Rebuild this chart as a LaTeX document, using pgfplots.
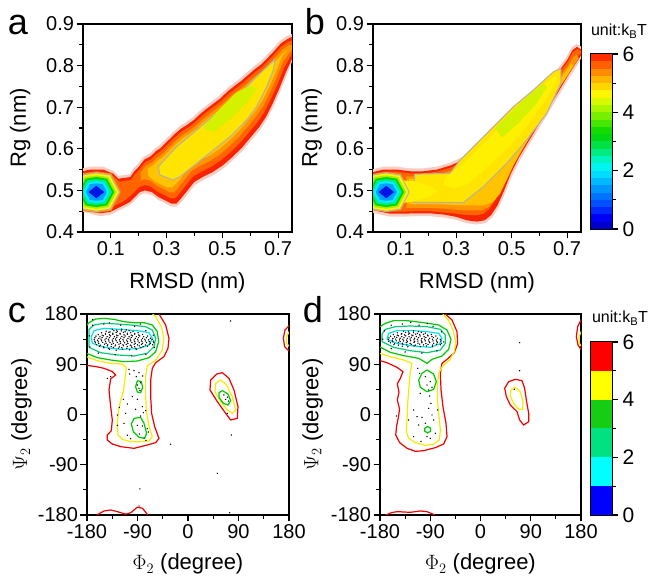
\documentclass[border=0pt]{standalone}
\usepackage{pgfplots}
\pgfplotsset{compat=1.18}
\usepackage{fontspec}
\setmainfont{Liberation Sans}
\setsansfont{Liberation Sans}

% filled free-energy layers (a, b)
\definecolor{cpale}{RGB}{250,205,195}
\definecolor{cred}{RGB}{250,35,0}
\definecolor{cor1}{RGB}{255,100,0}
\definecolor{cor2}{RGB}{255,150,0}
\definecolor{cor3}{RGB}{255,195,0}
\definecolor{cyel}{RGB}{255,228,0}
\definecolor{cyel2}{RGB}{255,240,0}
\definecolor{ccore}{RGB}{212,242,0}
\definecolor{cgrey}{RGB}{185,175,165}
\definecolor{bl2}{RGB}{255,120,0}
\definecolor{bl2b}{RGB}{255,175,0}
\definecolor{bl3}{RGB}{250,245,0}
\definecolor{bl4}{RGB}{170,235,0}
\definecolor{bl5}{RGB}{0,215,0}
\definecolor{bl6}{RGB}{0,235,150}
\definecolor{bl7}{RGB}{0,240,255}
\definecolor{bl8}{RGB}{0,160,255}
\definecolor{bl9}{RGB}{0,20,230}
% colour bar (a, b)
\definecolor{cb1}{RGB}{0,0,200}
\definecolor{cb2}{RGB}{0,0,245}
\definecolor{cb3}{RGB}{0,40,255}
\definecolor{cb4}{RGB}{0,80,255}
\definecolor{cb5}{RGB}{0,115,255}
\definecolor{cb6}{RGB}{0,150,255}
\definecolor{cb7}{RGB}{0,185,255}
\definecolor{cb8}{RGB}{0,220,255}
\definecolor{cb9}{RGB}{0,245,240}
\definecolor{cb10}{RGB}{0,245,190}
\definecolor{cb11}{RGB}{0,235,130}
\definecolor{cb12}{RGB}{0,225,70}
\definecolor{cb13}{RGB}{0,215,20}
\definecolor{cb14}{RGB}{20,220,0}
\definecolor{cb15}{RGB}{70,230,0}
\definecolor{cb16}{RGB}{120,238,0}
\definecolor{cb17}{RGB}{170,245,0}
\definecolor{cb18}{RGB}{215,250,0}
\definecolor{cb19}{RGB}{255,245,0}
\definecolor{cb20}{RGB}{255,215,0}
\definecolor{cb21}{RGB}{255,180,0}
\definecolor{cb22}{RGB}{255,140,0}
\definecolor{cb23}{RGB}{255,95,0}
\definecolor{cb24}{RGB}{255,45,0}
% contour lines (c, d)
\definecolor{lred}{RGB}{240,0,0}
\definecolor{lyel}{RGB}{245,235,0}
\definecolor{lgrn}{RGB}{0,200,0}
\definecolor{lteal}{RGB}{0,205,120}
\definecolor{lcyan}{RGB}{0,225,235}
\definecolor{k1}{RGB}{0,0,255}
\definecolor{k2}{RGB}{0,255,255}
\definecolor{k3}{RGB}{0,225,130}
\definecolor{k4}{RGB}{20,205,20}
\definecolor{k5}{RGB}{255,255,0}
\definecolor{k6}{RGB}{255,0,0}

\pgfplotsset{
  panel/.style={scale only axis, anchor=south west,
    axis line style={line width=1.3pt},
    every tick/.style={black, line width=1.1pt},
    tick align=outside, major tick length=6.5pt, minor tick length=4pt,
    xtick pos=bottom, ytick pos=left,
    tick label style={font=\fontsize{20}{20}\selectfont},
    yticklabel style={xshift=1pt},
    label style={font=\fontsize{22}{22}\selectfont}},
  fe/.style={panel, xmin=0, xmax=0.75, ymin=0.4, ymax=0.9,
    xtick={0.1,0.3,0.5,0.7}, xticklabels={0.1,0.3,0.5,0.7},
    minor xtick={0.2,0.4,0.6},
    ytick={0.4,0.5,0.6,0.7,0.8,0.9}, yticklabels={0.4,0.5,0.6,0.7,0.8,0.9},
    minor ytick={0.45,0.55,0.65,0.75,0.85},
    xlabel={RMSD (nm)}, ylabel={Rg (nm)},
    xlabel style={at={(axis description cs:0.5,-0.245)}, anchor=center}},
  rama/.style={panel, xmin=-180, xmax=180, ymin=-180, ymax=180,
    xtick={-180,-90,0,90,180}, xticklabels={-180,-90,0,90,180},
    minor xtick={-135,-45,45,135},
    ytick={-180,-90,0,90,180}, yticklabels={-180,-90,0,90,180},
    minor ytick={-135,-45,45,135},
    xlabel={$\Phi_2$ (degree)}, ylabel={$\Psi_2$ (degree)},
    xlabel style={at={(axis description cs:0.5,-0.245)}, anchor=center}},
  cbar/.style={scale only axis, anchor=south west, width=21pt,
    xmin=0, xmax=1, ymin=0, ymax=6, xtick=\empty,
    ytick={0,2,4,6}, yticklabels={0,2,4,6}, minor ytick={1,3,5},
    ytick pos=right, yticklabel pos=right,
    axis line style={line width=1.1pt},
    every tick/.style={black, line width=1.1pt},
    tick align=outside, major tick length=6pt, minor tick length=4pt,
    yticklabel style={font=\fontsize{21}{21}\selectfont, xshift=1pt}},
  lvl/.style={line width=1.2pt, mark=none},
  dots/.style={only marks, mark=*, mark size=0.45pt, mark options={draw=none, fill=black!60}}
}

\begin{document}
\begin{tikzpicture}
\useasboundingbox (0pt,0pt) rectangle (652pt,577pt);

% ---------------- a ----------------
\begin{axis}[fe, at={(83pt,345pt)}, width=209pt, height=208pt,
  ylabel style={at={(axis description cs:-0.30,0.5)}, anchor=center}]
\addplot[draw=none, fill=cpale] coordinates {(0,0.553)(0.025,0.557)(0.073,0.557)(0.109,0.547)(0.127,0.535)(0.169,0.539)(0.181,0.553)(0.199,0.565)(0.217,0.581)(0.240,0.589)(0.258,0.601)(0.276,0.609)(0.300,0.625)(0.324,0.641)(0.348,0.655)(0.372,0.665)(0.396,0.677)(0.420,0.692)(0.444,0.705)(0.468,0.717)(0.492,0.729)(0.516,0.745)(0.539,0.757)(0.563,0.769)(0.587,0.783)(0.611,0.797)(0.635,0.809)(0.659,0.825)(0.683,0.842)(0.707,0.860)(0.731,0.871)(0.750,0.876)(0.750,0.809)(0.731,0.777)(0.707,0.737)(0.683,0.701)(0.659,0.669)(0.635,0.645)(0.605,0.621)(0.575,0.597)(0.539,0.573)(0.504,0.553)(0.468,0.537)(0.432,0.525)(0.402,0.513)(0.378,0.493)(0.354,0.473)(0.336,0.461)(0.318,0.461)(0.294,0.469)(0.270,0.477)(0.246,0.489)(0.222,0.493)(0.205,0.489)(0.187,0.477)(0.169,0.465)(0.145,0.457)(0.121,0.449)(0.097,0.441)(0.061,0.438)(0.031,0.443)(0,0.449)};
\addplot[draw=none, fill=cred] coordinates {(0,0.546)(0.025,0.550)(0.073,0.550)(0.109,0.540)(0.127,0.528)(0.170,0.532)(0.184,0.546)(0.202,0.558)(0.220,0.574)(0.243,0.582)(0.261,0.594)(0.279,0.602)(0.303,0.618)(0.327,0.634)(0.351,0.648)(0.375,0.658)(0.399,0.670)(0.423,0.685)(0.447,0.698)(0.471,0.710)(0.495,0.722)(0.519,0.738)(0.542,0.750)(0.566,0.762)(0.590,0.776)(0.614,0.790)(0.638,0.802)(0.662,0.818)(0.686,0.835)(0.710,0.853)(0.734,0.864)(0.750,0.869)(0.750,0.816)(0.728,0.784)(0.704,0.744)(0.680,0.708)(0.656,0.676)(0.632,0.652)(0.602,0.628)(0.572,0.604)(0.536,0.580)(0.501,0.560)(0.465,0.544)(0.429,0.532)(0.399,0.520)(0.375,0.500)(0.351,0.480)(0.335,0.468)(0.318,0.468)(0.295,0.476)(0.271,0.484)(0.247,0.496)(0.222,0.500)(0.204,0.496)(0.186,0.484)(0.168,0.472)(0.145,0.464)(0.121,0.456)(0.097,0.448)(0.061,0.445)(0.031,0.450)(0,0.456)};
\addplot[draw=none, fill=cor1] coordinates {(0,0.539)(0.025,0.543)(0.073,0.543)(0.110,0.533)(0.130,0.521)(0.172,0.525)(0.186,0.539)(0.204,0.551)(0.222,0.567)(0.245,0.575)(0.263,0.587)(0.281,0.595)(0.305,0.611)(0.329,0.627)(0.353,0.641)(0.377,0.651)(0.401,0.663)(0.425,0.678)(0.449,0.691)(0.473,0.703)(0.497,0.715)(0.521,0.731)(0.544,0.743)(0.568,0.755)(0.592,0.769)(0.616,0.783)(0.640,0.795)(0.664,0.811)(0.688,0.828)(0.712,0.846)(0.736,0.857)(0.750,0.860)(0.750,0.828)(0.723,0.797)(0.699,0.757)(0.675,0.721)(0.651,0.689)(0.627,0.665)(0.597,0.641)(0.567,0.617)(0.531,0.593)(0.496,0.573)(0.460,0.557)(0.424,0.545)(0.394,0.533)(0.370,0.513)(0.346,0.493)(0.330,0.481)(0.315,0.481)(0.292,0.489)(0.268,0.497)(0.244,0.509)(0.222,0.513)(0.204,0.509)(0.186,0.497)(0.166,0.485)(0.145,0.474)(0.121,0.466)(0.097,0.456)(0.061,0.452)(0.031,0.456)(0,0.462)};
\addplot[draw=none, fill=cor2] coordinates {(0.207,0.543)(0.225,0.559)(0.248,0.567)(0.266,0.579)(0.284,0.587)(0.308,0.603)(0.332,0.619)(0.356,0.633)(0.380,0.643)(0.404,0.655)(0.428,0.670)(0.452,0.683)(0.476,0.695)(0.500,0.707)(0.524,0.723)(0.547,0.735)(0.571,0.747)(0.595,0.761)(0.619,0.775)(0.643,0.787)(0.667,0.803)(0.691,0.820)(0.715,0.838)(0.739,0.849)(0.750,0.850)(0.750,0.838)(0.719,0.811)(0.695,0.771)(0.671,0.735)(0.647,0.703)(0.623,0.679)(0.593,0.655)(0.563,0.631)(0.527,0.607)(0.492,0.587)(0.456,0.571)(0.420,0.559)(0.390,0.547)(0.366,0.527)(0.342,0.507)(0.326,0.495)(0.312,0.495)(0.290,0.503)(0.266,0.511)(0.242,0.523)(0.222,0.527)(0.207,0.523)};
\addplot[draw=none, fill=cor3] coordinates {(0.232,0.552)(0.251,0.560)(0.269,0.572)(0.287,0.580)(0.311,0.596)(0.335,0.612)(0.359,0.626)(0.383,0.636)(0.407,0.648)(0.431,0.663)(0.455,0.676)(0.479,0.688)(0.503,0.700)(0.527,0.716)(0.550,0.728)(0.574,0.740)(0.598,0.754)(0.622,0.768)(0.646,0.780)(0.670,0.796)(0.694,0.813)(0.716,0.828)(0.735,0.838)(0.715,0.823)(0.691,0.783)(0.667,0.747)(0.643,0.715)(0.619,0.691)(0.589,0.667)(0.559,0.643)(0.523,0.619)(0.488,0.599)(0.452,0.583)(0.416,0.571)(0.386,0.559)(0.362,0.539)(0.338,0.519)(0.320,0.507)(0.302,0.507)(0.278,0.515)(0.254,0.523)(0.235,0.535)};
\addplot[draw=cgrey, line width=1pt, fill=cyel] coordinates {(0.270,0.557)(0.336,0.605)(0.408,0.645)(0.492,0.693)(0.563,0.733)(0.635,0.781)(0.689,0.815)(0.683,0.789)(0.659,0.749)(0.623,0.701)(0.587,0.669)(0.528,0.629)(0.468,0.597)(0.408,0.565)(0.348,0.533)(0.324,0.525)(0.276,0.537)(0.270,0.557)};
\addplot[draw=none, fill=ccore] coordinates {(0.43,0.650)(0.49,0.695)(0.55,0.735)(0.60,0.752)(0.625,0.745)(0.59,0.712)(0.53,0.672)(0.47,0.640)};
% basin at RMSD 0.05
\addplot[draw=none, fill=bl2] coordinates {(0.138,0.496)(0.102,0.541)(0.048,0.546)(-0.006,0.541)(-0.042,0.496)(-0.006,0.451)(0.048,0.446)(0.102,0.451)};
\addplot[draw=none, fill=bl2b] coordinates {(0.134,0.496)(0.100,0.539)(0.048,0.544)(-0.004,0.539)(-0.038,0.496)(-0.004,0.453)(0.048,0.448)(0.100,0.453)};
\addplot[draw=cgrey, line width=1pt, fill=bl3] coordinates {(0.131,0.496)(0.098,0.537)(0.048,0.542)(-0.002,0.537)(-0.035,0.496)(-0.002,0.455)(0.048,0.450)(0.098,0.455)(0.131,0.496)};
\addplot[draw=none, fill=bl4] coordinates {(0.120,0.496)(0.091,0.532)(0.048,0.536)(0.005,0.532)(-0.024,0.496)(0.005,0.460)(0.048,0.456)(0.091,0.460)};
\addplot[draw=none, fill=bl5] coordinates {(0.112,0.496)(0.086,0.528)(0.048,0.532)(0.010,0.528)(-0.016,0.496)(0.010,0.464)(0.048,0.460)(0.086,0.464)};
\addplot[draw=none, fill=bl6] coordinates {(0.104,0.496)(0.082,0.524)(0.048,0.527)(0.014,0.524)(-0.008,0.496)(0.014,0.468)(0.048,0.465)(0.082,0.468)};
\addplot[draw=none, fill=bl7] coordinates {(0.095,0.496)(0.076,0.519)(0.048,0.522)(0.020,0.519)(0.001,0.496)(0.020,0.473)(0.048,0.470)(0.076,0.473)};
\addplot[draw=none, fill=bl8] coordinates {(0.086,0.496)(0.071,0.515)(0.048,0.517)(0.025,0.515)(0.010,0.496)(0.025,0.477)(0.048,0.475)(0.071,0.477)};
\addplot[draw=none, fill=bl9] coordinates {(0.076,0.496)(0.048,0.511)(0.020,0.496)(0.048,0.481)};
\end{axis}

% ---------------- b ----------------
\begin{axis}[fe, at={(373pt,345pt)}, width=208pt, height=208pt,
  ylabel style={at={(axis description cs:-0.295,0.5)}, anchor=center}]
\addplot[draw=none, fill=cpale] coordinates {(0,0.551)(0.037,0.557)(0.085,0.557)(0.133,0.553)(0.181,0.553)(0.230,0.557)(0.278,0.567)(0.326,0.581)(0.374,0.601)(0.422,0.629)(0.470,0.657)(0.518,0.685)(0.566,0.717)(0.614,0.753)(0.662,0.789)(0.698,0.821)(0.716,0.844)(0.734,0.852)(0.750,0.846)(0.750,0.817)(0.737,0.801)(0.710,0.773)(0.674,0.733)(0.638,0.693)(0.602,0.653)(0.566,0.613)(0.530,0.573)(0.500,0.533)(0.476,0.493)(0.452,0.457)(0.428,0.433)(0.404,0.421)(0.374,0.418)(0.338,0.421)(0.302,0.429)(0.254,0.435)(0.206,0.438)(0.157,0.438)(0.109,0.437)(0.061,0.437)(0.025,0.442)(0,0.446)};
\addplot[draw=none, fill=cred] coordinates {(0,0.544)(0.037,0.550)(0.085,0.550)(0.133,0.546)(0.181,0.546)(0.231,0.550)(0.280,0.560)(0.328,0.574)(0.377,0.594)(0.425,0.622)(0.473,0.650)(0.521,0.678)(0.569,0.710)(0.617,0.746)(0.665,0.782)(0.701,0.814)(0.719,0.837)(0.735,0.845)(0.750,0.839)(0.750,0.824)(0.734,0.808)(0.707,0.780)(0.671,0.740)(0.635,0.700)(0.599,0.660)(0.563,0.620)(0.527,0.580)(0.497,0.540)(0.473,0.500)(0.449,0.464)(0.425,0.440)(0.402,0.428)(0.374,0.425)(0.339,0.428)(0.303,0.436)(0.255,0.442)(0.206,0.445)(0.157,0.445)(0.109,0.444)(0.061,0.444)(0.025,0.449)(0,0.453)};
\addplot[draw=none, fill=cor1] coordinates {(0,0.539)(0.037,0.545)(0.085,0.545)(0.133,0.541)(0.181,0.541)(0.232,0.545)(0.281,0.555)(0.330,0.569)(0.378,0.589)(0.426,0.617)(0.474,0.645)(0.522,0.673)(0.570,0.705)(0.618,0.741)(0.666,0.777)(0.702,0.809)(0.720,0.832)(0.738,0.840)(0.750,0.835)(0.750,0.830)(0.727,0.815)(0.700,0.790)(0.664,0.752)(0.628,0.712)(0.592,0.673)(0.556,0.633)(0.520,0.594)(0.490,0.555)(0.466,0.515)(0.442,0.479)(0.418,0.455)(0.396,0.443)(0.370,0.440)(0.336,0.441)(0.302,0.444)(0.255,0.447)(0.206,0.450)(0.157,0.450)(0.109,0.449)(0.061,0.449)(0.025,0.454)(0,0.458)};
\addplot[draw=none, fill=cor2] coordinates {(0.12,0.534)(0.187,0.534)(0.236,0.538)(0.284,0.548)(0.332,0.562)(0.380,0.582)(0.428,0.610)(0.476,0.638)(0.524,0.666)(0.572,0.698)(0.620,0.734)(0.668,0.770)(0.704,0.800)(0.722,0.820)(0.735,0.826)(0.742,0.818)(0.725,0.800)(0.700,0.776)(0.668,0.745)(0.630,0.705)(0.592,0.665)(0.556,0.627)(0.520,0.589)(0.490,0.551)(0.466,0.513)(0.444,0.481)(0.420,0.461)(0.392,0.452)(0.364,0.452)(0.330,0.452)(0.296,0.454)(0.255,0.456)(0.206,0.458)(0.157,0.458)(0.12,0.458)};
\addplot[draw=none, fill=cor3] coordinates {(0.13,0.528)(0.19,0.528)(0.24,0.532)(0.288,0.542)(0.336,0.556)(0.384,0.576)(0.432,0.604)(0.480,0.632)(0.528,0.660)(0.576,0.692)(0.624,0.728)(0.672,0.764)(0.700,0.790)(0.715,0.805)(0.722,0.800)(0.705,0.780)(0.680,0.755)(0.646,0.715)(0.610,0.675)(0.574,0.637)(0.540,0.600)(0.508,0.562)(0.482,0.525)(0.458,0.492)(0.432,0.472)(0.400,0.464)(0.364,0.464)(0.330,0.464)(0.296,0.465)(0.255,0.466)(0.206,0.467)(0.157,0.467)(0.13,0.467)};
\addplot[draw=cgrey, line width=1pt, fill=cyel] coordinates {(0.150,0.539)(0.278,0.541)(0.314,0.573)(0.374,0.613)(0.434,0.653)(0.506,0.701)(0.578,0.741)(0.650,0.785)(0.677,0.793)(0.677,0.757)(0.626,0.685)(0.554,0.621)(0.482,0.565)(0.398,0.509)(0.326,0.471)(0.150,0.471)(0.150,0.539)};
\addplot[draw=none, fill=cyel2] coordinates {(0.26,0.530)(0.33,0.568)(0.40,0.615)(0.47,0.660)(0.54,0.705)(0.61,0.750)(0.660,0.778)(0.664,0.764)(0.620,0.715)(0.570,0.668)(0.520,0.625)(0.460,0.585)(0.400,0.548)(0.340,0.515)(0.290,0.505)(0.255,0.515)};
\addplot[draw=none, fill=ccore] coordinates {(0.44,0.650)(0.50,0.690)(0.56,0.727)(0.615,0.757)(0.628,0.748)(0.585,0.705)(0.525,0.662)(0.465,0.627)};
% basin at RMSD 0.05
\addplot[draw=none, fill=bl2b] coordinates {(0.134,0.496)(0.100,0.539)(0.048,0.544)(-0.004,0.539)(-0.038,0.496)(-0.004,0.453)(0.048,0.448)(0.100,0.453)};
\addplot[draw=none, fill=cyel2] coordinates {(0.09,0.525)(0.15,0.522)(0.20,0.512)(0.235,0.498)(0.20,0.484)(0.15,0.474)(0.09,0.468)};
\addplot[draw=cgrey, line width=1pt, fill=bl3] coordinates {(0.131,0.496)(0.098,0.537)(0.048,0.542)(-0.002,0.537)(-0.035,0.496)(-0.002,0.455)(0.048,0.450)(0.098,0.455)(0.131,0.496)};
\addplot[draw=none, fill=bl4] coordinates {(0.120,0.496)(0.091,0.532)(0.048,0.536)(0.005,0.532)(-0.024,0.496)(0.005,0.460)(0.048,0.456)(0.091,0.460)};
\addplot[draw=none, fill=bl5] coordinates {(0.112,0.496)(0.086,0.528)(0.048,0.532)(0.010,0.528)(-0.016,0.496)(0.010,0.464)(0.048,0.460)(0.086,0.464)};
\addplot[draw=none, fill=bl6] coordinates {(0.104,0.496)(0.082,0.524)(0.048,0.527)(0.014,0.524)(-0.008,0.496)(0.014,0.468)(0.048,0.465)(0.082,0.468)};
\addplot[draw=none, fill=bl7] coordinates {(0.095,0.496)(0.076,0.519)(0.048,0.522)(0.020,0.519)(0.001,0.496)(0.020,0.473)(0.048,0.470)(0.076,0.473)};
\addplot[draw=none, fill=bl8] coordinates {(0.086,0.496)(0.071,0.515)(0.048,0.517)(0.025,0.515)(0.010,0.496)(0.025,0.477)(0.048,0.475)(0.071,0.477)};
\addplot[draw=none, fill=bl9] coordinates {(0.076,0.496)(0.048,0.511)(0.020,0.496)(0.048,0.481)};
\end{axis}

% colour bar (a, b)
\begin{axis}[cbar, at={(591pt,348pt)}, height=175pt]
\addplot[draw=none, fill=cb1] coordinates {(0,0)(1,0)(1,0.25)(0,0.25)};
\addplot[draw=none, fill=cb2] coordinates {(0,0.25)(1,0.25)(1,0.5)(0,0.5)};
\addplot[draw=none, fill=cb3] coordinates {(0,0.5)(1,0.5)(1,0.75)(0,0.75)};
\addplot[draw=none, fill=cb4] coordinates {(0,0.75)(1,0.75)(1,1)(0,1)};
\addplot[draw=none, fill=cb5] coordinates {(0,1)(1,1)(1,1.25)(0,1.25)};
\addplot[draw=none, fill=cb6] coordinates {(0,1.25)(1,1.25)(1,1.5)(0,1.5)};
\addplot[draw=none, fill=cb7] coordinates {(0,1.5)(1,1.5)(1,1.75)(0,1.75)};
\addplot[draw=none, fill=cb8] coordinates {(0,1.75)(1,1.75)(1,2)(0,2)};
\addplot[draw=none, fill=cb9] coordinates {(0,2)(1,2)(1,2.25)(0,2.25)};
\addplot[draw=none, fill=cb10] coordinates {(0,2.25)(1,2.25)(1,2.5)(0,2.5)};
\addplot[draw=none, fill=cb11] coordinates {(0,2.5)(1,2.5)(1,2.75)(0,2.75)};
\addplot[draw=none, fill=cb12] coordinates {(0,2.75)(1,2.75)(1,3)(0,3)};
\addplot[draw=none, fill=cb13] coordinates {(0,3)(1,3)(1,3.25)(0,3.25)};
\addplot[draw=none, fill=cb14] coordinates {(0,3.25)(1,3.25)(1,3.5)(0,3.5)};
\addplot[draw=none, fill=cb15] coordinates {(0,3.5)(1,3.5)(1,3.75)(0,3.75)};
\addplot[draw=none, fill=cb16] coordinates {(0,3.75)(1,3.75)(1,4)(0,4)};
\addplot[draw=none, fill=cb17] coordinates {(0,4)(1,4)(1,4.25)(0,4.25)};
\addplot[draw=none, fill=cb18] coordinates {(0,4.25)(1,4.25)(1,4.5)(0,4.5)};
\addplot[draw=none, fill=cb19] coordinates {(0,4.5)(1,4.5)(1,4.75)(0,4.75)};
\addplot[draw=none, fill=cb20] coordinates {(0,4.75)(1,4.75)(1,5)(0,5)};
\addplot[draw=none, fill=cb21] coordinates {(0,5)(1,5)(1,5.25)(0,5.25)};
\addplot[draw=none, fill=cb22] coordinates {(0,5.25)(1,5.25)(1,5.5)(0,5.5)};
\addplot[draw=none, fill=cb23] coordinates {(0,5.5)(1,5.5)(1,5.75)(0,5.75)};
\addplot[draw=none, fill=cb24] coordinates {(0,5.75)(1,5.75)(1,6)(0,6)};
\end{axis}

% ---------------- c ----------------
\begin{axis}[rama, at={(87pt,62pt)}, width=202pt, height=201pt,
  ylabel style={at={(axis description cs:-0.325,0.5)}, anchor=center}]
\addplot[lvl, lred] coordinates {(-182,88)(-165,86)(-149.7,82.7)(-135,77)(-128.9,70.7)(-137.8,64)(-140.8,43.9)(-137.8,14.0)(-134.9,-9.8)(-136.6,-29.0)(-143.8,-36.7)(-143.8,-45.7)(-134.9,-52.8)(-120.0,-57.6)(-96.2,-60.6)(-72.5,-54.6)(-57.6,-50.4)(-51.7,-42.7)(-59.4,-21.8)(-64.8,2.1)(-66.5,32.0)(-66.5,61.8)(-63.6,82.7)(-57.6,92.8)(-42.8,103.6)(-35.7,118.5)(-33.9,136.4)(-39.8,160.3)(-51.7,180)(-53,182)};
\addplot[lvl, lyel] coordinates {(-182,104)(-161.6,96.4)(-137.8,91.6)(-117.0,90.4)(-109.9,84.5)(-111.7,67.8)(-115.3,40.9)(-120.0,26.0)(-123.6,8.1)(-126.0,-15.8)(-124.8,-36.7)(-117.0,-44.5)(-102.2,-48.7)(-84.4,-48.7)(-69.5,-47.5)(-63.6,-39.7)(-69.5,-21.8)(-73.7,2.1)(-75.5,32.0)(-75.5,67.8)(-72.5,86.9)(-57.6,97.6)(-45.8,115.5)(-42.8,136.4)(-47.5,157.3)(-57.6,175.2)(-65,182)};
\addplot[lvl, lgrn] coordinates {(-182,110)(-161.6,101.8)(-137.8,97.6)(-114.1,94.6)(-90.3,95.8)(-69.5,101.8)(-57.6,112.5)(-52.3,130.4)(-54.7,148.4)(-63.6,160.3)(-78.4,164.5)(-96.2,164.5)(-114.1,166.3)(-131.9,170.4)(-149.7,172.2)(-164.6,171.0)(-176.4,164.5)(-182,158)};
\addplot[lvl, lteal] coordinates {(-176.4,120.3)(-155.6,110.7)(-125.9,106.6)(-96.2,104.8)(-72.5,109.6)(-60.6,121.5)(-57.6,136.4)(-63.6,151.3)(-75.5,157.3)(-102.2,160.3)(-125.9,162.1)(-149.7,163.3)(-167.5,160.3)(-176.4,152.5)(-176.4,120.3)};
\addplot[lvl, lcyan] coordinates {(-170.5,127.5)(-149.7,120.3)(-120.0,116.7)(-90.3,117.9)(-69.5,124.5)(-63.6,136.4)(-69.5,146.6)(-90.3,150.2)(-120.0,152.5)(-149.7,154.3)(-167.5,150.2)(-172.3,139.4)(-170.5,127.5)};
\addplot[lvl, lgrn] coordinates {(-90.3,60.6)(-83.2,58.8)(-80.8,48.7)(-84.4,39.1)(-90.3,40.3)(-93.3,49.9)(-90.3,60.6)};
\addplot[lvl, lgrn] coordinates {(-96.2,-6.9)(-84.4,-5.1)(-78.4,-15.8)(-73.7,-33.7)(-77.2,-42.7)(-87.3,-40.9)(-97.4,-30.7)(-101.0,-17.0)(-96.2,-6.9)};
\addplot[lvl, lred] coordinates {(61.2,74.9)(73.0,64.8)(82.0,43.9)(89.1,14.0)(87.9,-6.9)(76.0,-9.8)(67.1,2.1)(52.3,23.0)(39.2,43.9)(40.4,61.8)(51.1,72.5)(61.2,74.9)};
\addplot[lvl, lyel] coordinates {(58.2,61.8)(68.9,52.8)(79.0,31.9)(84.9,8.1)(79.0,2.1)(70.1,8.1)(58.2,23.0)(48.1,40.9)(49.3,55.8)(58.2,61.8)};
\addplot[lvl, lgrn] coordinates {(61.2,42.7)(71.3,36.7)(76.0,24.8)(71.3,17.0)(63.0,20.0)(55.2,30.7)(55.2,39.1)(61.2,42.7)};
\addplot[lvl, lred] coordinates {(182,161)(172.8,151.3)(169.9,136.4)(172.2,121.5)(182,112)};
\addplot[lvl, lyel] coordinates {(182,152)(175.8,139.4)(175.8,127.5)(182,120)};
\addplot[lvl, lred] coordinates {(-166,-182)(-149.7,-172.8)(-137.8,-171)(-126,-174)(-111,-178.5)(-102,-176)(-90.3,-166)(-81,-168)(-72.5,-179)(-71,-182)};
\addplot[dots] coordinates {
(-140,116.5)(-128,115.2)(-117,117.0)(-104,115.8)(-92,116.6)
(-150,119.4)(-141,118.2)(-133,120.1)(-124,118.8)(-118,119.9)(-109,118.4)(-100,120.2)(-93,118.7)(-84,119.6)
(-158,122.3)(-150,121.1)(-144,123.0)(-137,121.6)(-130,122.8)(-122,121.2)(-115,123.1)(-108,121.7)(-101,122.6)(-95,121.3)(-87,122.9)(-80,121.5)(-72,122.4)
(-163,125.2)(-156,124.1)(-149,126.0)(-143,124.6)(-136,125.8)(-129,124.3)(-123,126.1)(-116,124.7)(-110,125.5)(-103,124.2)(-96,126.0)(-90,124.8)(-83,125.6)(-76,124.4)(-69,125.9)(-63,124.9)
(-165,128.4)(-159,127.2)(-152,129.0)(-146,127.6)(-139,128.8)(-133,127.3)(-126,129.1)(-120,127.7)(-113,128.6)(-107,127.2)(-100,128.9)(-94,127.5)(-87,128.7)(-81,127.4)(-74,128.8)(-67,127.6)(-61,128.5)
(-166,131.3)(-160,130.1)(-154,132.0)(-147,130.6)(-141,131.8)(-134,130.2)(-128,132.1)(-121,130.7)(-115,131.6)(-108,130.3)(-102,131.9)(-95,130.5)(-89,131.7)(-82,130.4)(-76,131.8)(-69,130.6)(-62,131.5)
(-167,134.2)(-161,133.1)(-155,135.0)(-148,133.6)(-142,134.8)(-135,133.3)(-129,135.1)(-122,133.7)(-116,134.6)(-109,133.2)(-103,134.9)(-96,133.5)(-90,134.7)(-83,133.4)(-77,134.8)(-70,133.6)(-64,134.5)
(-166,137.4)(-159,136.2)(-153,138.0)(-146,136.6)(-140,137.8)(-133,136.3)(-127,138.1)(-120,136.7)(-114,137.6)(-107,136.3)(-101,137.9)(-94,136.5)(-88,137.7)(-81,136.4)(-74,137.8)(-67,136.6)
(-164,140.3)(-157,139.1)(-151,141.0)(-144,139.6)(-138,140.8)(-131,139.3)(-125,141.1)(-118,139.7)(-112,140.6)(-105,139.2)(-99,140.9)(-92,139.5)(-86,140.7)(-79,139.4)(-72,140.5)
(-160,143.2)(-153,142.1)(-147,144.0)(-140,142.6)(-134,143.8)(-127,142.3)(-121,144.1)(-114,142.7)(-108,143.6)(-101,142.2)(-95,143.9)(-88,142.5)(-81,143.4)
(-154,146.3)(-147,145.1)(-141,147.0)(-134,145.6)(-128,146.8)(-121,145.3)(-115,147.1)(-108,145.7)(-102,146.6)(-95,145.2)(-89,146.4)
(-146,149.2)(-139,148.1)(-132,150.0)(-126,148.6)(-119,149.8)(-112,148.3)(-105,150.1)(-98,148.7)
(-135,152.3)(-127,151.2)(-118,152.8)(-110,151.5)
(-170,160)(-150,162)(-120,160)(-95,158)(-75,150)(-62,142)(-60,120)(-75,108)(-100,105)(-130,107)(-160,110)(-175,121)(-176,141)(-140,164)(-85,162)(-170,170)
(-143.8,64.8)(-137.8,67.8)(-105.2,80.9)(-104,72.5)(-96.2,78.5)(-87.3,74.9)(-92.1,67.8)(-80.8,69.0)(-84.4,57.0)(-115.3,27.2)(-108.1,18.8)(-93.3,9.3)(-81.4,14.0)(-75.5,6.9)(-111.1,2.1)(-126.0,-0.9)(-84.4,-2.7)(-79.6,3.3)(-90.3,-19.4)(-81.4,-20.6)(-114.1,-15.8)(-108.1,-37.3)(-86.7,-34.9)(-78.4,-42.1)(-74.9,-46.3)(-126,-19.4)(-102.2,-43.3)(-72.5,-25.4)(-70.7,-31.3)(-122.4,12.8)(-99.2,32.0)(-90.3,27.2)(-87.3,46.9)(-90.3,52.8)(-85.6,42.7)
(76.0,167.5)(-31,-53.4)(77.2,-36.7)(52.3,-105.4)(-85.6,-133.4)(-87.3,-163.9)(74.2,-175.8)(64,35)(70,31)(67,27)(72,24)(70,2)};
\end{axis}

% ---------------- d ----------------
\begin{axis}[rama, at={(380pt,62pt)}, width=201pt, height=201pt,
  ylabel style={at={(axis description cs:-0.335,0.5)}, anchor=center}]
\addplot[lvl, lred] coordinates {(-182,97)(-167.5,92.8)(-149.6,84.5)(-138.8,76.7)(-143.6,64.8)(-149,55)(-146,40)(-149,26)(-145,10)(-147,-5)(-150,-19)(-151.9,-36.7)(-144.8,-50.4)(-131.6,-60.6)(-116.7,-66.0)(-101.8,-64.8)(-80.9,-59.4)(-66.0,-52.8)(-60.0,-39.7)(-61.8,-15.8)(-67.2,14.0)(-70.7,43.9)(-71.9,73.7)(-69.0,91.6)(-60.0,98.8)(-46.9,110.7)(-40.9,127.5)(-42.1,148.4)(-51.0,169.3)(-63.0,180)(-65,182)};
\addplot[lvl, lyel] coordinates {(-182,110)(-161.5,103.6)(-137.6,97.6)(-122.7,91.6)(-125.7,76.7)(-128.1,49.9)(-130.4,20.0)(-131.6,-9.8)(-132.8,-30.7)(-128.7,-42.7)(-116.7,-50.4)(-98.8,-55.2)(-83.9,-53.4)(-73.7,-45.7)(-71.9,-27.8)(-74.3,-3.9)(-76.7,20.0)(-77.3,49.9)(-74.9,73.7)(-67.8,86.9)(-55.2,97.6)(-46.9,112.5)(-44.5,130.4)(-49.3,151.3)(-57.0,168.1)(-67.2,180)(-69,182)};
\addplot[lvl, lgrn] coordinates {(-182,122)(-161.5,111.3)(-137.6,105.4)(-110.7,100.6)(-95.8,91.6)(-86.9,98.8)(-68.9,104.8)(-57.0,116.7)(-52.8,134.6)(-60.0,151.3)(-74.9,160.3)(-101.8,164.5)(-131.6,168.1)(-155.5,168.1)(-170.4,163.3)(-182,156)};
\addplot[lvl, lteal] coordinates {(-176.4,130.4)(-155.5,120.3)(-125.7,114.3)(-95.8,110.7)(-71.9,115.5)(-63.0,127.5)(-63.0,142.4)(-71.9,152.5)(-95.8,157.3)(-125.7,158.5)(-152.5,157.3)(-170.4,152.5)(-176.4,144.2)(-176.4,130.4)};
\addplot[lvl, lcyan] coordinates {(-167.5,134.6)(-149.6,127.5)(-119.7,122.7)(-89.9,120.3)(-73.1,126.3)(-69.0,136.4)(-74.9,145.4)(-95.8,148.4)(-119.7,150.2)(-149.6,150.2)(-164.5,145.4)(-167.5,134.6)};
\addplot[lvl, lgrn] coordinates {(-95.8,79.7)(-83.9,72.5)(-79.1,58.8)(-83.9,45.1)(-95.8,40.9)(-107.8,48.7)(-110.7,61.8)(-104.8,73.7)(-95.8,79.7)};
\addplot[lvl, lgrn] coordinates {(-94.6,-21.5)(-89.5,-24.5)(-89.5,-30)(-94.6,-33)(-99.7,-30)(-99.7,-24.5)(-94.6,-21.5)};
\addplot[lvl, lred] coordinates {(62.4,63.0)(74.3,60.6)(79.1,46.9)(82.1,26.0)(86.3,2.1)(86.3,-12.9)(77.3,-18.8)(70.1,-9.8)(65.4,5.1)(53.4,17.0)(46.3,31.9)(43.3,46.9)(50.4,58.8)(62.4,63.0)};
\addplot[lvl, lyel] coordinates {(62.4,48.7)(71.3,40.9)(76.1,23.0)(75.5,9.3)(68.4,9.3)(59.4,20.0)(53.4,33.1)(54.6,43.9)(62.4,48.7)};
\addplot[lvl, lred] coordinates {(182,173)(174.0,157.3)(171.6,139.4)(174.6,124.5)(182,114)};
\addplot[lvl, lyel] coordinates {(182,152)(176.4,139.4)(177.0,127.5)(182,120)};
\addplot[lvl, lred] coordinates {(-174,-182)(-160,-176)(-149.6,-174)(-125.7,-175.2)(-107.8,-172.8)(-95.8,-174)(-83.9,-179)(-80,-182)};
\addplot[dots] coordinates {
(-140,122.4)(-130,121.3)(-119,122.9)(-108,121.6)(-97,122.7)(-86,121.5)
(-155,125.3)(-147,124.2)(-139,126.0)(-132,124.6)(-124,125.7)(-117,124.3)(-109,126.0)(-102,124.7)(-94,125.6)(-86,124.4)(-79,125.8)(-72,124.9)
(-161,128.3)(-154,127.1)(-147,129.0)(-140,127.6)(-133,128.8)(-126,127.3)(-119,129.1)(-112,127.7)(-105,128.6)(-98,127.2)(-91,128.9)(-84,127.5)(-77,128.6)(-70,127.6)
(-164,131.2)(-157,130.1)(-151,132.0)(-144,130.6)(-138,131.8)(-131,130.3)(-125,132.1)(-118,130.7)(-112,131.6)(-105,130.2)(-99,131.9)(-92,130.5)(-85,131.7)(-78,130.4)(-71,131.5)
(-165,134.3)(-158,133.1)(-152,135.0)(-145,133.6)(-139,134.8)(-132,133.3)(-126,135.1)(-119,133.7)(-113,134.6)(-106,133.2)(-100,134.9)(-93,133.5)(-86,134.7)(-79,133.4)(-72,134.6)
(-164,137.2)(-157,136.1)(-150,138.0)(-144,136.6)(-137,137.8)(-131,136.3)(-124,138.1)(-118,136.7)(-111,137.6)(-105,136.2)(-98,137.9)(-91,136.5)(-84,137.7)(-77,136.6)
(-161,140.3)(-154,139.1)(-147,141.0)(-141,139.6)(-134,140.8)(-128,139.3)(-121,141.1)(-115,139.7)(-108,140.6)(-101,139.2)(-94,140.9)(-87,139.5)(-80,140.5)
(-156,143.2)(-149,142.1)(-142,144.0)(-136,142.6)(-129,143.8)(-123,142.3)(-116,144.1)(-109,142.7)(-102,143.6)(-95,142.2)(-88,143.4)
(-149,146.3)(-141,145.1)(-134,147.0)(-127,145.6)(-120,146.8)(-113,145.3)(-106,147.1)(-99,145.7)
(-138,149.2)(-129,148.1)(-120,149.8)(-111,148.6)
(-172,150)(-160,160)(-140,162)(-110,160)(-85,158)(-70,148)(-66,130)(-78,114)(-105,110)(-135,112)(-160,118)(-175,135)(-125,165)(-95,163)
(-112.5,82.7)(-109.0,73.7)(-98.8,67.8)(-89.9,58.8)(-95.8,52.8)(-92.8,43.9)(-86.9,48.7)(-107.8,37.9)(-91.0,33.1)(-119.7,8.1)(-113.7,-3.9)(-104.8,-5.1)(-128.7,-9.8)(-110.7,-18.8)(-98.8,-15.8)(-86.9,-0.9)(-83.9,-9.8)(-76.7,8.1)(-150.7,-2.7)(-92.8,11.1)(-95.8,-39.7)(-89.9,-42.7)(-119.7,-39.7)(-106.6,-48.1)(-80.9,-33.7)(-88.7,20.0)
(70.1,128.7)(70.1,78.5)(60.6,45.1)};
\end{axis}

% colour bar (c, d)
\begin{axis}[cbar, at={(591pt,62pt)}, height=173pt]
\addplot[draw=none, fill=k1] coordinates {(0,0)(1,0)(1,1)(0,1)};
\addplot[draw=none, fill=k2] coordinates {(0,1)(1,1)(1,2)(0,2)};
\addplot[draw=none, fill=k3] coordinates {(0,2)(1,2)(1,3)(0,3)};
\addplot[draw=none, fill=k4] coordinates {(0,3)(1,3)(1,4)(0,4)};
\addplot[draw=none, fill=k5] coordinates {(0,4)(1,4)(1,5)(0,5)};
\addplot[draw=none, fill=k6] coordinates {(0,5)(1,5)(1,6)(0,6)};
\end{axis}

% panel letters and units
\node[font=\fontsize{36}{36}\selectfont, anchor=base] at (18pt,542pt) {a};
\node[font=\fontsize{36}{36}\selectfont, anchor=base] at (315pt,542pt) {b};
\node[font=\fontsize{36}{36}\selectfont, anchor=base] at (17pt,254pt) {c};
\node[font=\fontsize{36}{36}\selectfont, anchor=base] at (313pt,254pt) {d};
\node[font=\fontsize{16}{16}\selectfont] at (619pt,546pt) {unit:k\textsubscript{B}T};
\node[font=\fontsize{16}{16}\selectfont] at (620pt,259pt) {unit:k\textsubscript{B}T};
\end{tikzpicture}
\end{document}
